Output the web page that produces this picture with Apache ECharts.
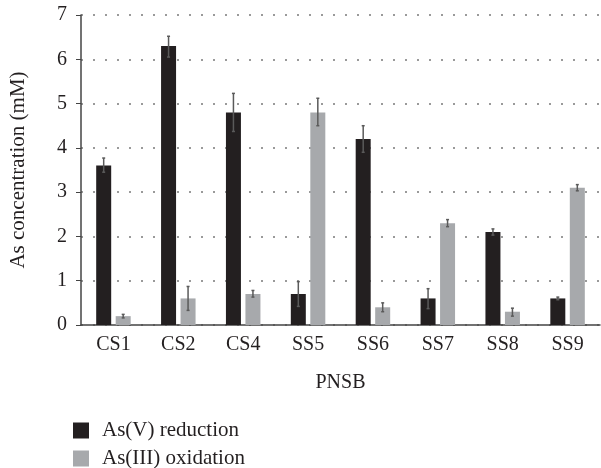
<!DOCTYPE html>
<html>
<head>
<meta charset="utf-8">
<script src="https://cdn.jsdelivr.net/npm/echarts@6/dist/echarts.min.js"></script>
<style>html,body{margin:0;padding:0;background:#fff}#c{width:601px;height:468px}</style>
</head>
<body>
<div id="c"></div>
<script>
var categories = ['CS1','CS2','CS4','SS5','SS6','SS7','SS8','SS9'];
var reduction = [3.6, 6.3, 4.8, 0.7, 4.2, 0.6, 2.1, 0.6];
var reductionLow = [3.45, 6.05, 4.37, 0.42, 3.9, 0.37, 2.03, 0.57];
var reductionHigh = [3.77, 6.52, 5.23, 0.98, 4.5, 0.82, 2.17, 0.63];
var oxidation = [0.2, 0.6, 0.7, 4.8, 0.4, 2.3, 0.3, 3.1];
var oxidationLow = [0.16, 0.33, 0.63, 4.5, 0.3, 2.22, 0.2, 3.03];
var oxidationHigh = [0.24, 0.87, 0.78, 5.12, 0.5, 2.38, 0.38, 3.17];
var yTicks = [0,1,2,3,4,5,6,7];
var seriesNames = ['As(V) reduction', 'As(III) oxidation'];

var FONT = '"Liberation Serif", "DejaVu Serif", serif';
var BAR_W = 15, OFFSET = 9.75;

function errData(low, high) {
  return categories.map(function (c, i) { return [i, low[i], high[i]]; });
}
function errRender(off) {
  return function (params, api) {
    var lo = api.coord([api.value(0), api.value(1)]);
    var hi = api.coord([api.value(0), api.value(2)]);
    var x = lo[0] + off;
    var style = {stroke: '#5a5a5a', lineWidth: 1.5};
    return {type: 'group', children: [
      {type: 'line', shape: {x1: x, y1: lo[1], x2: x, y2: hi[1]}, style: style},
      {type: 'line', shape: {x1: x - 1.5, y1: lo[1], x2: x + 1.5, y2: lo[1]}, style: style},
      {type: 'line', shape: {x1: x - 1.5, y1: hi[1], x2: x + 1.5, y2: hi[1]}, style: style}
    ]};
  };
}
function legendFor(name, top) {
  return {
    orient: 'vertical', left: 73, top: top, padding: 0,
    itemWidth: 16, itemHeight: 16,
    icon: 'rect', data: [name],
    textStyle: {fontFamily: FONT, fontSize: 21, color: '#231f20', padding: [0, 0, 0, 8]}
  };
}

var chart = echarts.init(document.getElementById('c'), null, {renderer: 'canvas'});
chart.setOption({
  animation: false,
  backgroundColor: '#fff',
  grid: {left: 72, right: 1, top: 15, bottom: 143},
  legend: [legendFor(seriesNames[0], 420), legendFor(seriesNames[1], 448)],
  xAxis: {
    type: 'category', data: categories,
    name: 'PNSB', nameLocation: 'middle', nameGap: 48,
    nameTextStyle: {fontFamily: FONT, fontSize: 20, color: '#231f20'},
    axisLine: {lineStyle: {color: '#444', width: 1.5}},
    axisTick: {alignWithLabel: true, length: 5, lineStyle: {color: '#444'}},
    axisLabel: {fontFamily: FONT, fontSize: 20, color: '#231f20', margin: 10}
  },
  yAxis: {
    type: 'value', min: 0, max: 7, interval: 1,
    name: 'As concentration (mM)', nameLocation: 'middle', nameGap: 52,
    nameTextStyle: {fontFamily: FONT, fontSize: 21, color: '#231f20'},
    axisLine: {show: true, lineStyle: {color: '#444', width: 1.5}},
    axisTick: {show: true, length: 5, lineStyle: {color: '#444'}},
    axisLabel: {fontFamily: FONT, fontSize: 20, color: '#231f20', margin: 14,
      formatter: function (v) { return yTicks.indexOf(v) >= 0 ? String(v) : ''; }},
    splitLine: {show: true, lineStyle: {color: '#9a9a9a', width: 2, type: [2, 10]}}
  },
  series: [
    {name: seriesNames[0], type: 'bar', data: reduction, barWidth: BAR_W, barGap: '30%',
      itemStyle: {color: '#231f20'}},
    {name: seriesNames[1], type: 'bar', data: oxidation, barWidth: BAR_W, barGap: '30%',
      itemStyle: {color: '#a7a9ac'}},
    {type: 'custom', renderItem: errRender(-OFFSET), data: errData(reductionLow, reductionHigh),
      encode: {x: 0, y: [1, 2]}, z: 10},
    {type: 'custom', renderItem: errRender(OFFSET), data: errData(oxidationLow, oxidationHigh),
      encode: {x: 0, y: [1, 2]}, z: 10}
  ]
});
</script>
</body>
</html>
